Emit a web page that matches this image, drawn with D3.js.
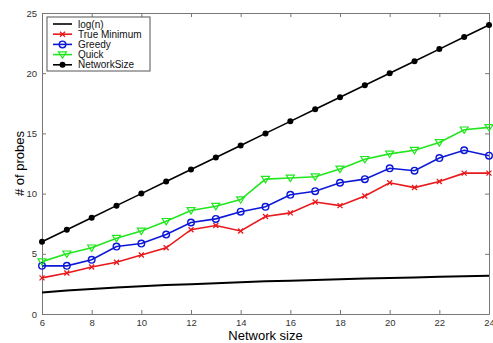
<!DOCTYPE html>
<html>
<head>
<meta charset="utf-8">
<script src="https://cdn.jsdelivr.net/npm/d3@7"></script>
<style>
  body { margin: 0; background: #fff; }
  text { font-family: "Liberation Sans", Arial, sans-serif; }
</style>
</head>
<body>
<script>
var svgWidth = 493;
var svgHeight = 343;

var margin = { top: 13, right: 4, bottom: 29, left: 42 };
var chartWidth = svgWidth - margin.left - margin.right;
var chartHeight = svgHeight - margin.top - margin.bottom;

// data
var networkSize = [6, 7, 8, 9, 10, 11, 12, 13, 14, 15, 16, 17, 18, 19, 20, 21, 22, 23, 24];
var logN = [1.79, 1.95, 2.08, 2.20, 2.30, 2.40, 2.48, 2.56, 2.64, 2.71, 2.77, 2.83, 2.89, 2.94, 3.00, 3.04, 3.09, 3.14, 3.18];
var trueMinimum = [3.0, 3.4, 3.9, 4.3, 4.9, 5.5, 7.0, 7.35, 6.9, 8.1, 8.4, 9.3, 9.0, 9.8, 10.9, 10.5, 11.0, 11.7, 11.7];
var greedy = [4.0, 4.0, 4.5, 5.6, 5.85, 6.6, 7.6, 7.9, 8.5, 8.9, 9.9, 10.2, 10.9, 11.2, 12.1, 11.9, 12.95, 13.6, 13.15];
var quick = [4.35, 5.0, 5.5, 6.3, 6.9, 7.7, 8.6, 8.95, 9.5, 11.2, 11.3, 11.4, 12.05, 12.85, 13.3, 13.6, 14.25, 15.3, 15.5];
var netSizeVals = [6, 7, 8, 9, 10, 11, 12, 13, 14, 15, 16, 17, 18, 19, 20, 21, 22, 23, 24];

var xTicks = [6, 8, 10, 12, 14, 16, 18, 20, 22, 24];
var yTicks = [0, 5, 10, 15, 20, 25];

var series = [
  { name: "log(n)", values: logN, color: "#000", marker: "none" },
  { name: "True Minimum", values: trueMinimum, color: "#e8191c", marker: "x" },
  { name: "Greedy", values: greedy, color: "#0d18d6", marker: "o" },
  { name: "Quick", values: quick, color: "#22e61e", marker: "v" },
  { name: "NetworkSize", values: netSizeVals, color: "#000", marker: "dot" }
];

var svg = d3.select("body").append("svg")
  .attr("width", svgWidth)
  .attr("height", svgHeight);

var chartGroup = svg.append("g")
  .attr("transform", `translate(${margin.left}, ${margin.top})`);

var xScale = d3.scaleLinear().domain([6, 24]).range([0, chartWidth]);
var yScale = d3.scaleLinear().domain([0, 25]).range([chartHeight, 0]);

var frameColor = "#777";

// axes with inward ticks, mirrored on top/right
function styleAxis(g) {
  g.select(".domain").attr("stroke", frameColor);
  g.selectAll(".tick line").attr("stroke", frameColor);
  g.selectAll(".tick text").attr("fill", "#333").style("font-size", "9.5px");
}

chartGroup.append("g")
  .attr("transform", `translate(0, ${chartHeight})`)
  .call(d3.axisBottom(xScale).tickValues(xTicks).tickSizeInner(-4).tickSizeOuter(0).tickPadding(5))
  .call(styleAxis);

chartGroup.append("g")
  .call(d3.axisTop(xScale).tickValues(xTicks).tickSizeInner(-4).tickSizeOuter(0).tickFormat(""))
  .call(styleAxis);

chartGroup.append("g")
  .call(d3.axisLeft(yScale).tickValues(yTicks).tickSizeInner(-4).tickSizeOuter(0).tickPadding(5))
  .call(styleAxis);

chartGroup.append("g")
  .attr("transform", `translate(${chartWidth}, 0)`)
  .call(d3.axisRight(yScale).tickValues(yTicks).tickSizeInner(-4).tickSizeOuter(0).tickFormat(""))
  .call(styleAxis);

var line = d3.line()
  .x(d => xScale(d[0]))
  .y(d => yScale(d[1]));

function drawMarker(g, type, color) {
  if (type === "x") {
    g.append("path").attr("d", "M-2.5,-2.5L2.5,2.5M-2.5,2.5L2.5,-2.5")
      .attr("stroke", color).attr("stroke-width", 1.3).attr("fill", "none");
  } else if (type === "o") {
    g.append("circle").attr("r", 3.3)
      .attr("stroke", color).attr("stroke-width", 1.4).attr("fill", "none");
  } else if (type === "v") {
    g.append("path").attr("d", "M-4,-2.8L4,-2.8L0,3.6Z")
      .attr("stroke", color).attr("stroke-width", 1.2).attr("fill", "none");
  } else if (type === "dot") {
    g.append("circle").attr("r", 3).attr("fill", color);
  }
}

series.forEach(function(s) {
  var pts = networkSize.map((n, i) => [n, s.values[i]]);
  chartGroup.append("path")
    .datum(pts)
    .attr("d", line)
    .attr("fill", "none")
    .attr("stroke", s.color)
    .attr("stroke-width", s.marker === "none" ? 2 : 1.6);

  if (s.marker !== "none") {
    chartGroup.selectAll(null).data(pts).enter()
      .append("g")
      .attr("transform", d => `translate(${xScale(d[0])}, ${yScale(d[1])})`)
      .each(function() { drawMarker(d3.select(this), s.marker, s.color); });
  }
});

// legend
var legend = svg.append("g").attr("transform", "translate(47, 17)");
legend.append("rect")
  .attr("width", 103).attr("height", 54)
  .attr("fill", "#fff").attr("stroke", "#555").attr("stroke-width", 1);

series.forEach(function(s, i) {
  var row = legend.append("g").attr("transform", `translate(0, ${7 + i * 10.2})`);
  row.append("line")
    .attr("x1", 6).attr("x2", 25)
    .attr("stroke", s.color).attr("stroke-width", 1.6);
  var m = row.append("g").attr("transform", "translate(15.5, 0)");
  if (s.marker !== "none") drawMarker(m, s.marker, s.color);
  row.append("text")
    .attr("x", 31).attr("y", 3.5)
    .style("font-size", "10px")
    .attr("fill", "#111")
    .text(s.name);
});

// axis labels
svg.append("text")
  .attr("transform", `translate(24, ${margin.top + chartHeight / 2}) rotate(-90)`)
  .attr("text-anchor", "middle")
  .style("font-size", "13px")
  .text("# of probes");

svg.append("text")
  .attr("x", margin.left + chartWidth / 2)
  .attr("y", 340)
  .attr("text-anchor", "middle")
  .style("font-size", "13px")
  .text("Network size");
</script>
</body>
</html>
